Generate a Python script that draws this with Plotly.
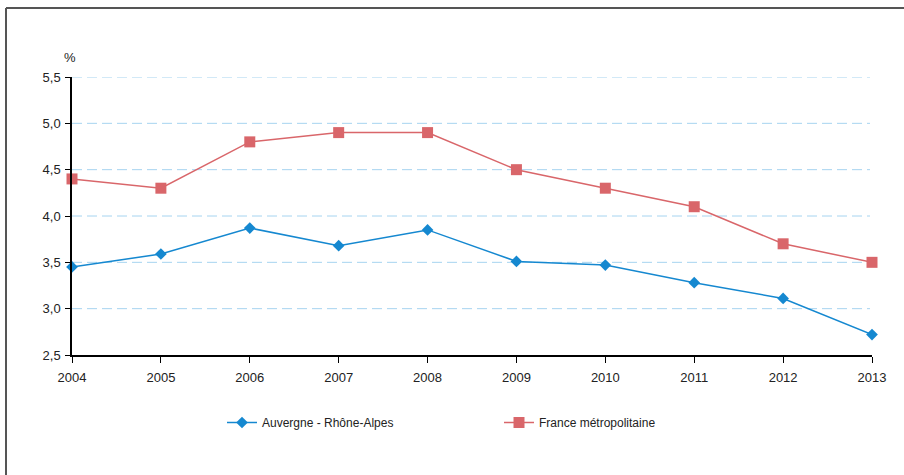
import plotly.graph_objects as go

years = [2004, 2005, 2006, 2007, 2008, 2009, 2010, 2011, 2012, 2013]
auvergne = [3.45, 3.59, 3.87, 3.68, 3.85, 3.51, 3.47, 3.28, 3.11, 2.72]
france = [4.4, 4.3, 4.8, 4.9, 4.9, 4.5, 4.3, 4.1, 3.7, 3.5]
y_ticks = [2.5, 3.0, 3.5, 4.0, 4.5, 5.0, 5.5]

FONT = "Liberation Sans Narrow, Liberation Sans, Arial, sans-serif"
BLUE = "#1588d0"
RED = "#d9666a"

fig = go.Figure()
fig.add_trace(go.Scatter(
    x=years, y=auvergne, name="Auvergne - Rhône-Alpes", mode="lines+markers",
    line=dict(color=BLUE, width=1.5), marker=dict(symbol="diamond", size=9, color=BLUE),
    cliponaxis=False))
fig.add_trace(go.Scatter(
    x=years, y=france, name="France métropolitaine", mode="lines+markers",
    line=dict(color=RED, width=1.5), marker=dict(symbol="square", size=11, color=RED),
    cliponaxis=False))

W, H = 904, 475
L, R, T, B = 72, 32, 77, 120
pw, ph = W - L - R, H - T - B

def px_x(p):
    return (p - L) / pw

def px_y(p):
    return (H - B - p) / ph

# grid lines (dashed light blue)
for v in y_ticks[1:]:
    fig.add_shape(type="line", xref="paper", yref="y", x0=0, x1=(870 - L) / pw, y0=v, y1=v,
                  line=dict(color="#a6d4f0", width=1, dash="10px,5px"), layer="below")

# frame (top and left)
fig.add_shape(type="line", xref="paper", yref="paper", x0=px_x(6), x1=px_x(6),
              y0=px_y(8), y1=px_y(480), line=dict(color="#555555", width=2))
fig.add_shape(type="line", xref="paper", yref="paper", x0=px_x(6), x1=px_x(910),
              y0=px_y(8), y1=px_y(8), line=dict(color="#555555", width=2))

fig.add_annotation(text="%", xref="paper", yref="paper", x=px_x(70), y=px_y(57),
                   xanchor="center", yanchor="middle",
                   showarrow=False, font=dict(family=FONT, size=13, color="#222"))

fig.update_layout(
    width=W, height=H, margin=dict(l=L, r=R, t=T, b=B),
    paper_bgcolor="white", plot_bgcolor="white",
    separators=", ",
    font=dict(family=FONT, size=13, color="#222"),
    showlegend=True,
    legend=dict(orientation="h", x=px_x(222), y=px_y(408), xanchor="left", yanchor="top",
                entrywidth=232, entrywidthmode="pixels",
                font=dict(family=FONT, size=12, color="#222")),
    xaxis=dict(range=[2004, 2013], tickmode="array", tickvals=years,
               ticktext=[str(y) for y in years], showgrid=False, zeroline=False,
               showline=True, linecolor="black", linewidth=1.5,
               ticks="outside", ticklen=6, tickcolor="black", ticklabelstandoff=4),
    yaxis=dict(range=[2.5, 5.5], tickmode="array", tickvals=y_ticks, tickformat=".1f",
               showgrid=False, zeroline=False, showline=True, linecolor="black", linewidth=1.5,
               ticks="outside", ticklen=5, tickcolor="black", ticklabelstandoff=2),
)

fig.write_html("out.html", config={"displayModeBar": False},
               post_script="document.body.style.margin='0';")
